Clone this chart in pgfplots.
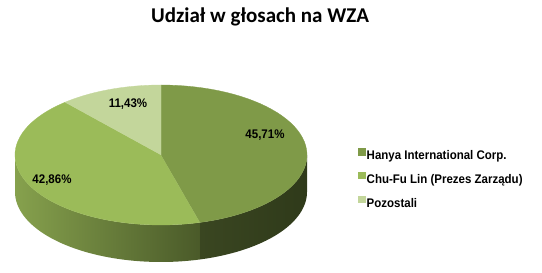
\documentclass[border=0pt]{standalone}
\usepackage{pgfplots}
\pgfplotsset{compat=1.18}
\usepackage{pgfplotstable}
\usepackage{fontspec}
\setmainfont{Liberation Sans}
\newfontfamily\titlefont{Carlito}
\definecolor{hanya}{HTML}{7F9A48}
\definecolor{chufu}{HTML}{9BBB59}
\definecolor{pozo}{HTML}{C3D69B}
\definecolor{hanyasideL}{HTML}{3A4621}
\definecolor{hanyasideR}{HTML}{2F3A1A}
\definecolor{chusideL}{HTML}{86A14D}
\definecolor{chusideR}{HTML}{4A5A29}
\pgfplotstableread{
label value
Hanya 45.71
ChuFu 42.86
Pozostali 11.43
}\piedata
\newcommand\lbl[1]{\scalebox{0.92}[1]{#1}}
\begin{document}
\begin{tikzpicture}
\pgfplotstablegetelem{0}{value}\of\piedata \let\vA\pgfplotsretval
\pgfplotstablegetelem{1}{value}\of\piedata \let\vB\pgfplotsretval
\pgfplotstablegetelem{2}{value}\of\piedata \let\vC\pgfplotsretval
\pgfmathsetmacro{\aA}{90}
\pgfmathsetmacro{\aB}{90-3.6*\vA}
\pgfmathsetmacro{\aC}{\aB-3.6*\vB}
\pgfmathsetmacro{\aD}{\aC-3.6*\vC}
\def\cx{161}\def\cy{118}\def\rx{146}\def\ry{70}\def\dd{37}
\begin{axis}[
  scale only axis, width=542pt, height=273pt,
  xmin=0, xmax=542, ymin=0, ymax=273,
  hide axis, clip=false,
  legend image code/.code={\fill[#1] (0pt,0pt) rectangle (7.5pt,7.5pt);},
  legend style={at={(axis cs:355,127)}, anchor=north west, draw=none, fill=none,
    font=\bfseries\fontsize{12.5}{12.5}\selectfont, row sep=11pt,
    nodes={inner xsep=1pt, inner ysep=0pt}},
  legend cell align=left,
]
\path (axis cs:0,0) rectangle (axis cs:542,273);
% side walls
\addplot[forget plot, draw=none, left color=hanyasideL, right color=hanyasideR, domain=0:2, samples=101, variable=\t]
 ({\cx+\rx*cos(ifthenelse(\t<1.01, \aB+(0-\aB)*min(\t,1), 0+(\aB-0)*max(\t-1.02,0)/0.98))},
  {\cy+\ry*sin(ifthenelse(\t<1.01, \aB+(0-\aB)*min(\t,1), 0+(\aB-0)*max(\t-1.02,0)/0.98)) - ifthenelse(\t<1.01,0,\dd)});
\addplot[forget plot, draw=none, left color=chusideL, right color=chusideR, domain=0:2, samples=101, variable=\t]
 ({\cx+\rx*cos(ifthenelse(\t<1.01, -180+(\aB+180)*min(\t,1), \aB+(-180-\aB)*max(\t-1.02,0)/0.98))},
  {\cy+\ry*sin(ifthenelse(\t<1.01, -180+(\aB+180)*min(\t,1), \aB+(-180-\aB)*max(\t-1.02,0)/0.98)) - ifthenelse(\t<1.01,0,\dd)});
% top faces
\addplot[forget plot, fill=hanya, draw=hanya, line width=0.3pt, domain=0:1.2, samples=61, variable=\t]
 ({ifthenelse(\t<1.01, \cx+\rx*cos(\aA+(\aB-\aA)*min(\t,1)), \cx)},
  {ifthenelse(\t<1.01, \cy+\ry*sin(\aA+(\aB-\aA)*min(\t,1)), \cy)});
\addplot[forget plot, fill=chufu, draw=chufu, line width=0.3pt, domain=0:1.2, samples=61, variable=\t]
 ({ifthenelse(\t<1.01, \cx+\rx*cos(\aB+(\aC-\aB)*min(\t,1)), \cx)},
  {ifthenelse(\t<1.01, \cy+\ry*sin(\aB+(\aC-\aB)*min(\t,1)), \cy)});
\addplot[forget plot, fill=pozo, draw=pozo, line width=0.3pt, domain=0:1.2, samples=61, variable=\t]
 ({ifthenelse(\t<1.01, \cx+\rx*cos(\aC+(\aD-\aC)*min(\t,1)), \cx)},
  {ifthenelse(\t<1.01, \cy+\ry*sin(\aC+(\aD-\aC)*min(\t,1)), \cy)});
% legend
\addlegendimage{fill=hanya,draw=none}
\addlegendentry{\lbl{Hanya International Corp.}}
\addlegendimage{fill=chufu,draw=none}
\addlegendentry{\lbl{Chu-Fu Lin (Prezes Zarządu)}}
\addlegendimage{fill=pozo,draw=none}
\addlegendentry{\lbl{Pozostali}}
% labels
\node[font=\bfseries\fontsize{12.5}{12.5}\selectfont] at (axis cs:265,138) {\lbl{45,71\%}};
\node[font=\bfseries\fontsize{12.5}{12.5}\selectfont] at (axis cs:52,93) {\lbl{42,86\%}};
\node[font=\bfseries\fontsize{12.5}{12.5}\selectfont] at (axis cs:128,169) {\lbl{11,43\%}};
% title
\node[font=\titlefont\bfseries\fontsize{21}{21}\selectfont] at (axis cs:260,256) {Udział w głosach na WZA};
\end{axis}
\end{tikzpicture}
\end{document}
